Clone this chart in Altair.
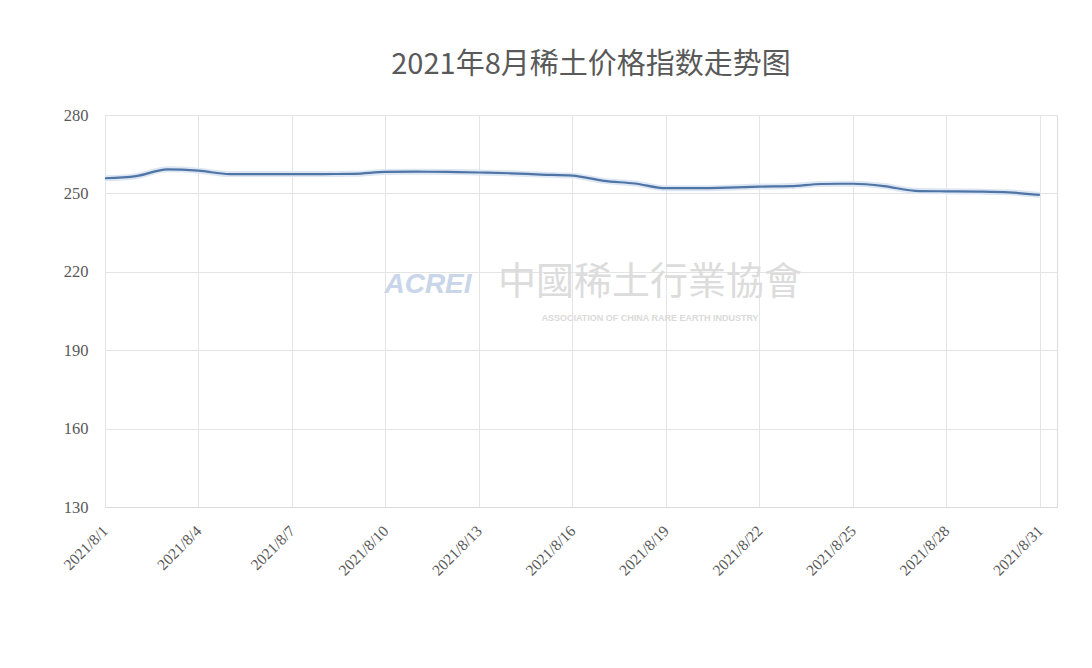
import altair as alt
import pandas as pd

dates = ["2021/8/%d" % d for d in range(1, 32)]
days = list(range(1, 32))
values = [255.8, 256.6, 259.2, 258.7, 257.4, 257.4, 257.4, 257.4, 257.5, 258.2,
          258.3, 258.2, 258.0, 257.7, 257.2, 256.8, 254.8, 253.8, 252.0, 252.0,
          252.2, 252.6, 252.8, 253.6, 253.7, 252.8, 251.0, 250.8, 250.7, 250.4,
          249.4]
tick_days = [1, 4, 7, 10, 13, 16, 19, 22, 25, 28, 31]
y_ticks = [130, 160, 190, 220, 250, 280]

df = pd.DataFrame({"date": dates, "day": days, "value": values})

W, H = 952, 392
xscale = alt.Scale(domain=[1, 31.55], nice=False, zero=False)
yscale = alt.Scale(domain=[130, 280], nice=False, zero=False)

x_axis = alt.Axis(values=tick_days, labelExpr="'2021/8/' + datum.value", labelAngle=-45,
                  labelAlign="right", labelBaseline="middle", labelPadding=21,
                  labelFont="Liberation Serif", labelFontSize=15.5, labelColor="#595959",
                  ticks=False, domain=True, domainColor="#d9d9d9", grid=True,
                  gridColor="#e4e4e4", title=None)
y_axis = alt.Axis(values=y_ticks, labelFont="Liberation Serif", labelFontSize=16.5,
                  labelColor="#595959", labelPadding=17, ticks=False, domain=False,
                  grid=True, gridColor="#e4e4e4", title=None)

base = alt.Chart(df)

wm1 = alt.Chart(pd.DataFrame({"t": ["ACREI"]})).mark_text(
    font="Liberation Sans", fontStyle="italic", fontWeight="bold", fontSize=28,
    color="#c9d5e8", align="center", baseline="middle"
).encode(text="t:N", x=alt.value(323), y=alt.value(170))
wm2 = alt.Chart(pd.DataFrame({"t": ["中國稀土行業協會"]})).mark_text(
    font="Noto Sans CJK TC", fontSize=38, color="#dcdcdc", align="center", baseline="middle"
).encode(text="t:N", x=alt.value(545), y=alt.value(168))
wm3 = alt.Chart(pd.DataFrame({"t": ["ASSOCIATION OF CHINA RARE EARTH INDUSTRY"]})).mark_text(
    font="Liberation Sans", fontWeight="bold", fontSize=9, color="#dadada",
    align="center", baseline="middle"
).encode(text="t:N", x=alt.value(545), y=alt.value(203))

halo = base.mark_line(color="#dde7f3", strokeWidth=6, interpolate="monotone").encode(
    x=alt.X("day:Q", scale=xscale, axis=x_axis),
    y=alt.Y("value:Q", scale=yscale, axis=y_axis),
)
line = base.mark_line(color="#4f74a6", strokeWidth=2.2, interpolate="monotone").encode(
    x=alt.X("day:Q", scale=xscale),
    y=alt.Y("value:Q", scale=yscale),
    tooltip=["date:N", "value:Q"],
)

chart = alt.layer(halo, wm1, wm2, wm3, line).properties(
    width=W, height=H,
    title=alt.TitleParams("2021年8月稀土价格指数走势图", font="Noto Sans CJK SC",
                          fontSize=29, fontWeight="normal", color="#595959",
                          anchor="middle", offset=27, dx=10),
    autosize=alt.AutoSizeParams(type="none"),
    padding={"left": 105, "top": 115, "right": 35, "bottom": 161},
).configure_view(stroke=None, fill="#f2f2f2").configure(background="white")

chart.save("out.html", embed_options={"renderer": "svg", "actions": False})
